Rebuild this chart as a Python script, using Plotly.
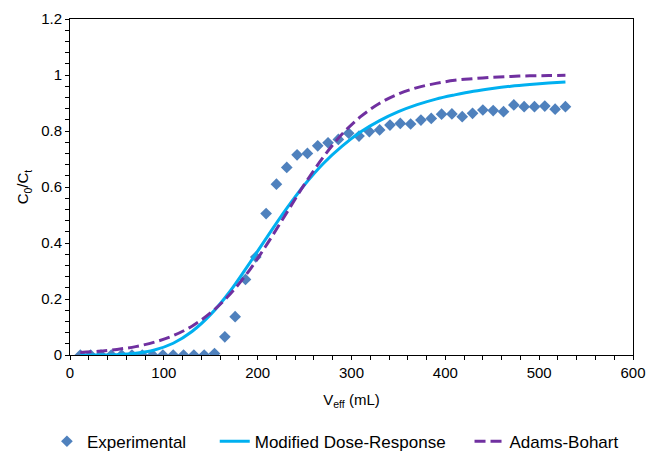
import plotly.graph_objects as go

# Effluent volume (mL) and measured C0/Ct ratios
v_exp = [11, 22, 33, 44, 55, 66, 77, 88, 99, 110, 121, 132, 143, 154,
         165, 176, 187, 198, 209, 220, 231, 242, 253, 264, 275, 286,
         297, 308, 319, 330, 341, 352, 363, 374, 385, 396, 407, 418,
         429, 440, 451, 462, 473, 484, 495, 506, 517, 528]
c_exp = [0, 0, 0, 0, 0, 0, 0, 0, 0, 0, 0, 0, 0, 0.005,
         0.065, 0.137, 0.27, 0.35, 0.505, 0.61, 0.67, 0.715, 0.72, 0.747,
         0.758, 0.77, 0.792, 0.782, 0.798, 0.804, 0.821, 0.827, 0.825, 0.839,
         0.845, 0.86, 0.861, 0.851, 0.863, 0.875, 0.873, 0.869, 0.893, 0.887,
         0.887, 0.889, 0.878, 0.887]

# Model curves
v_model = [11, 30, 50, 70, 90, 110, 130, 150, 170, 190, 210, 230, 250, 270,
           290, 310, 330, 350, 370, 390, 410, 430, 450, 470, 490, 510, 528]
c_mdr = [0.000, 0.000, 0.001, 0.006, 0.018, 0.042, 0.084, 0.145, 0.225,
         0.321, 0.421, 0.519, 0.608, 0.684, 0.746, 0.797, 0.837, 0.869,
         0.894, 0.914, 0.929, 0.942, 0.952, 0.960, 0.966, 0.971, 0.975]
c_ab = [0.009, 0.013, 0.020, 0.030, 0.046, 0.069, 0.103, 0.151, 0.215,
        0.297, 0.396, 0.503, 0.610, 0.707, 0.789, 0.852, 0.899, 0.932,
        0.955, 0.970, 0.981, 0.987, 0.992, 0.995, 0.997, 0.998, 0.999]

FONT = "Arial, 'Liberation Sans', sans-serif"
NB = "\u00a0"

fig = go.Figure()
fig.add_trace(go.Scatter(
    x=v_exp, y=c_exp, mode="markers", name="Experimental" + NB * 5,
    marker=dict(symbol="diamond", size=9, color="#4F81BD",
                line=dict(width=0)),
))
fig.add_trace(go.Scatter(
    x=v_model, y=c_mdr, mode="lines", name="Modified Dose-Response" + NB * 4,
    line=dict(color="#00B0F0", width=3, shape="spline"),
))
fig.add_trace(go.Scatter(
    x=v_model, y=c_ab, mode="lines", name="Adams-Bohart",
    line=dict(color="#7030A0", width=3, dash="11px,5px", shape="spline"),
))

axis_common = dict(
    showline=True, linecolor="black", linewidth=1, mirror=True,
    showgrid=False, zeroline=False,
    ticks="outside", ticklen=4, tickcolor="black", tickwidth=1,
    tickfont=dict(family=FONT, size=15, color="black"),
)

fig.update_xaxes(
    range=[0, 600], dtick=100, tick0=0,
    minor=dict(dtick=20, ticks="outside", ticklen=4, tickcolor="black"),
    title=dict(text="V<sub>eff</sub> (mL)", font=dict(family=FONT, size=15, color="black"),
               standoff=14),
    **axis_common,
)
fig.update_yaxes(
    range=[0, 1.2], dtick=0.2, tick0=0,
    minor=dict(dtick=0.04, ticks="outside", ticklen=4, tickcolor="black"),
    title=dict(text="C<sub>0</sub>/C<sub>t</sub>", font=dict(family=FONT, size=15, color="black"),
               standoff=8),
    **axis_common,
)

fig.update_layout(
    width=649, height=454,
    margin=dict(l=70, r=16, t=19, b=99, autoexpand=False),
    plot_bgcolor="white", paper_bgcolor="white",
    font=dict(family=FONT, color="black"),
    showlegend=True,
    legend=dict(orientation="h", x=-0.041, xanchor="left", y=-0.258, yanchor="middle",
                font=dict(family=FONT, size=17, color="black"),
                bgcolor="rgba(0,0,0,0)", borderwidth=0),
)

fig.write_html("out.html")
